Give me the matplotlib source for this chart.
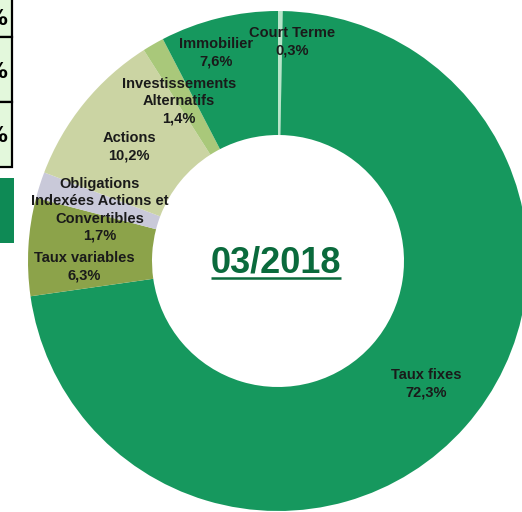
#!/usr/bin/env python3
"""
Allocation donut chart (03/2018) - recreated with matplotlib.
Saves out.png (522x512).
"""

import matplotlib
matplotlib.use('Agg')
import matplotlib.pyplot as plt
from matplotlib.patches import Rectangle

# Data (clockwise from 12 o'clock)
categories = ['Court Terme', 'Taux fixes', 'Taux variables',
              'Obligations\nIndexées Actions et\nConvertibles',
              'Actions', 'Investissements\nAlternatifs', 'Immobilier']
shares = [0.3, 72.3, 6.3, 1.7, 10.2, 1.4, 7.6]
share_labels = ['0,3%', '72,3%', '6,3%', '1,7%', '10,2%', '1,4%', '7,6%']
period = '03/2018'

colors = ['#B8E5C9', '#16985E', '#8CA34A', '#C9C9D9',
          '#CBD4A3', '#A9C87A', '#16985E']

# Label anchor points (pixels, y up) - layout only
label_pos = [(292, 470), (426, 128), (84, 245), (100, 302),
             (129, 365), (179, 411), (216, 459)]

W, H = 522, 512
CENTER = (278, 251)
RADIUS = 250


def draw_table_fragment(ax):
    """Part of the neighbouring table cut off at the left edge."""
    rows = [(475, 40), (410, 65), (345, 65)]
    for y0, h in rows:
        ax.add_patch(Rectangle((-20, y0), 32, h, facecolor='#E3F8DC',
                               edgecolor='black', linewidth=1.6, zorder=1))
        ax.text(7, y0 + h / 2 - 2, '%', ha='right', va='center',
                fontsize=15, fontweight='bold', color='black', zorder=2)
    ax.add_patch(Rectangle((-2, 269), 16, 65, facecolor='#0E8A55',
                           edgecolor='none', zorder=1))


def main():
    fig = plt.figure(figsize=(W / 100, H / 100), dpi=100)
    ax = fig.add_axes([0, 0, 1, 1])

    ax.pie(shares, colors=colors, startangle=90, counterclock=False,
           center=CENTER, radius=RADIUS, frame=True,
           wedgeprops=dict(width=RADIUS * 0.496, edgecolor='none'))
    ax.set_xlim(0, W)
    ax.set_ylim(0, H)
    ax.set_aspect('equal')
    ax.axis('off')

    for name, pct, (x, y) in zip(categories, share_labels, label_pos):
        ax.text(x, y, f'{name}\n{pct}', ha='center', va='center',
                fontsize=10.5, fontweight='bold', color='#1A1A1A',
                family='Liberation Sans', linespacing=1.3, zorder=5)

    draw_table_fragment(ax)

    # Centre title, underlined
    title = ax.text(CENTER[0] - 2, 249, period, ha='center', va='center',
                    fontsize=26, fontweight='bold', color='#0A6A3C',
                    family='Liberation Sans', zorder=5)
    fig.canvas.draw()
    bb = title.get_window_extent().transformed(ax.transData.inverted())
    ax.plot([bb.x0, bb.x1], [bb.y0 + 3, bb.y0 + 3], color='#0A6A3C',
            linewidth=1.8, solid_capstyle='butt', zorder=5)

    fig.savefig('out.png', dpi=100)
    plt.close(fig)


if __name__ == '__main__':
    main()
